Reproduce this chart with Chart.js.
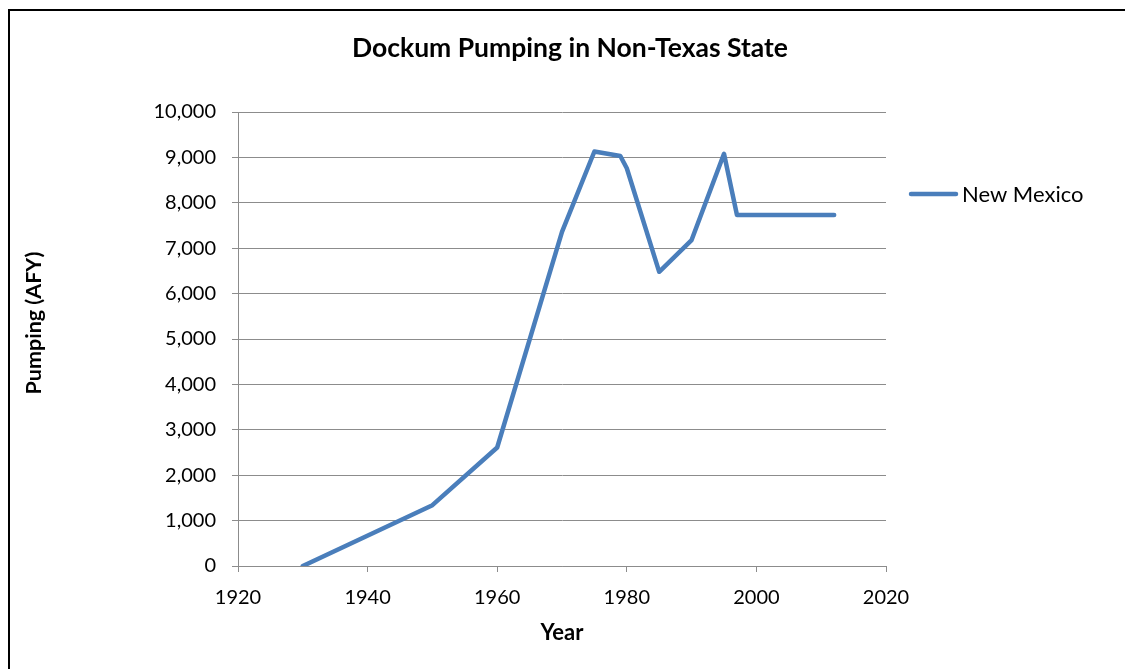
<!DOCTYPE html>
<html>
<head>
<meta charset="utf-8">
<script src="https://cdn.jsdelivr.net/npm/chart.js@4"></script>
<style>
  html, body { margin: 0; padding: 0; background: #fff; }
  #wrap { position: absolute; left: 0; top: 0; width: 1125px; height: 669px; }
  #frame { position: absolute; left: 8px; top: 9px; width: 1117px; height: 660px;
           border-top: 2px solid #000; border-left: 2px solid #000; box-sizing: border-box; }
  canvas { position: absolute; left: 0; top: 0; }
</style>
</head>
<body>
<div id="wrap">
  <div id="frame"></div>
  <canvas id="c" width="1125" height="669"></canvas>
</div>
<script>
const titleText = 'Dockum Pumping in Non-Texas State';
const seriesName = 'New Mexico';
const xAxisTitle = 'Year';
const yAxisTitle = 'Pumping (AFY)';
const years = [1930, 1950, 1960, 1970, 1975, 1979, 1980, 1985, 1990, 1995, 1997, 2012];
const pumping = [0, 1340, 2610, 7360, 9130, 9030, 8760, 6480, 7180, 9080, 7730, 7730];
const xTicks = [1920, 1940, 1960, 1980, 2000, 2020];
const yTicks = [0, 1000, 2000, 3000, 4000, 5000, 6000, 7000, 8000, 9000, 10000];

const FONT = 'Lato, "Open Sans", sans-serif';
const LINE_COLOR = '#4a7ebb';
const GRID_COLOR = '#8c8c8c';

const overlayPlugin = {
  id: 'overlay',
  afterDraw(chart) {
    const ctx = chart.ctx;
    const ds = chart.data.datasets[0];
    ctx.save();
    ctx.fillStyle = '#000';
    ctx.textBaseline = 'middle';
    // chart title
    ctx.font = 'bold 26.5px ' + FONT;
    ctx.textAlign = 'center';
    ctx.fillText(titleText, 570, 48);
    // y axis title (Excel places it slightly above the plot centre)
    ctx.save();
    ctx.translate(34, 323);
    ctx.rotate(-Math.PI / 2);
    ctx.font = 'bold 21.5px ' + FONT;
    ctx.fillText(yAxisTitle, 0, 0);
    ctx.restore();
    // legend
    ctx.strokeStyle = ds.borderColor;
    ctx.lineWidth = 4.5;
    ctx.lineCap = 'round';
    ctx.beginPath();
    ctx.moveTo(911, 194);
    ctx.lineTo(956, 194);
    ctx.stroke();
    ctx.font = '22px ' + FONT;
    ctx.textAlign = 'left';
    ctx.fillText(ds.label, 962, 195);
    ctx.restore();
  }
};

new Chart(document.getElementById('c'), {
  type: 'line',
  data: {
    datasets: [{
      label: seriesName,
      data: years.map((y, i) => ({ x: y, y: pumping[i] })),
      borderColor: LINE_COLOR,
      backgroundColor: LINE_COLOR,
      borderWidth: 4.5,
      borderCapStyle: 'round',
      borderJoinStyle: 'round',
      pointRadius: 0,
      tension: 0,
      fill: false
    }]
  },
  options: {
    responsive: false,
    animation: false,
    devicePixelRatio: 1,
    layout: { padding: { left: 0, right: 239, top: 112, bottom: 0 } },
    plugins: {
      legend: { display: false },
      tooltip: { enabled: false },
      title: { display: false }
    },
    scales: {
      x: {
        type: 'linear',
        min: 1920, max: 2020,
        afterBuildTicks(scale) { scale.ticks = xTicks.map(v => ({ value: v })); },
        afterFit(scale) { scale.height = 103; },
        ticks: {
          color: '#000',
          font: { family: FONT, size: 20 },
          padding: 14,
          maxRotation: 0,
          callback: v => String(v)
        },
        grid: { display: true, drawOnChartArea: false, drawTicks: true, tickLength: 6, color: GRID_COLOR, lineWidth: 1 },
        border: { display: true, color: GRID_COLOR, width: 1 },
        title: {
          display: true, text: xAxisTitle, color: '#000',
          font: { family: FONT, size: 22, weight: 'bold', lineHeight: 1.2 },
          padding: { top: 0, bottom: 23 }
        }
      },
      y: {
        min: 0, max: 10000,
        afterBuildTicks(scale) { scale.ticks = yTicks.map(v => ({ value: v })); },
        afterFit(scale) { scale.width = 238; },
        ticks: {
          color: '#000',
          font: { family: FONT, size: 20 },
          padding: 16,
          callback: v => v.toLocaleString('en-US')
        },
        grid: { display: true, drawOnChartArea: true, drawTicks: true, tickLength: 6, color: GRID_COLOR, lineWidth: 1 },
        border: { display: true, color: GRID_COLOR, width: 1 },
        title: { display: false }
      }
    }
  },
  plugins: [overlayPlugin]
});
</script>
</body>
</html>
